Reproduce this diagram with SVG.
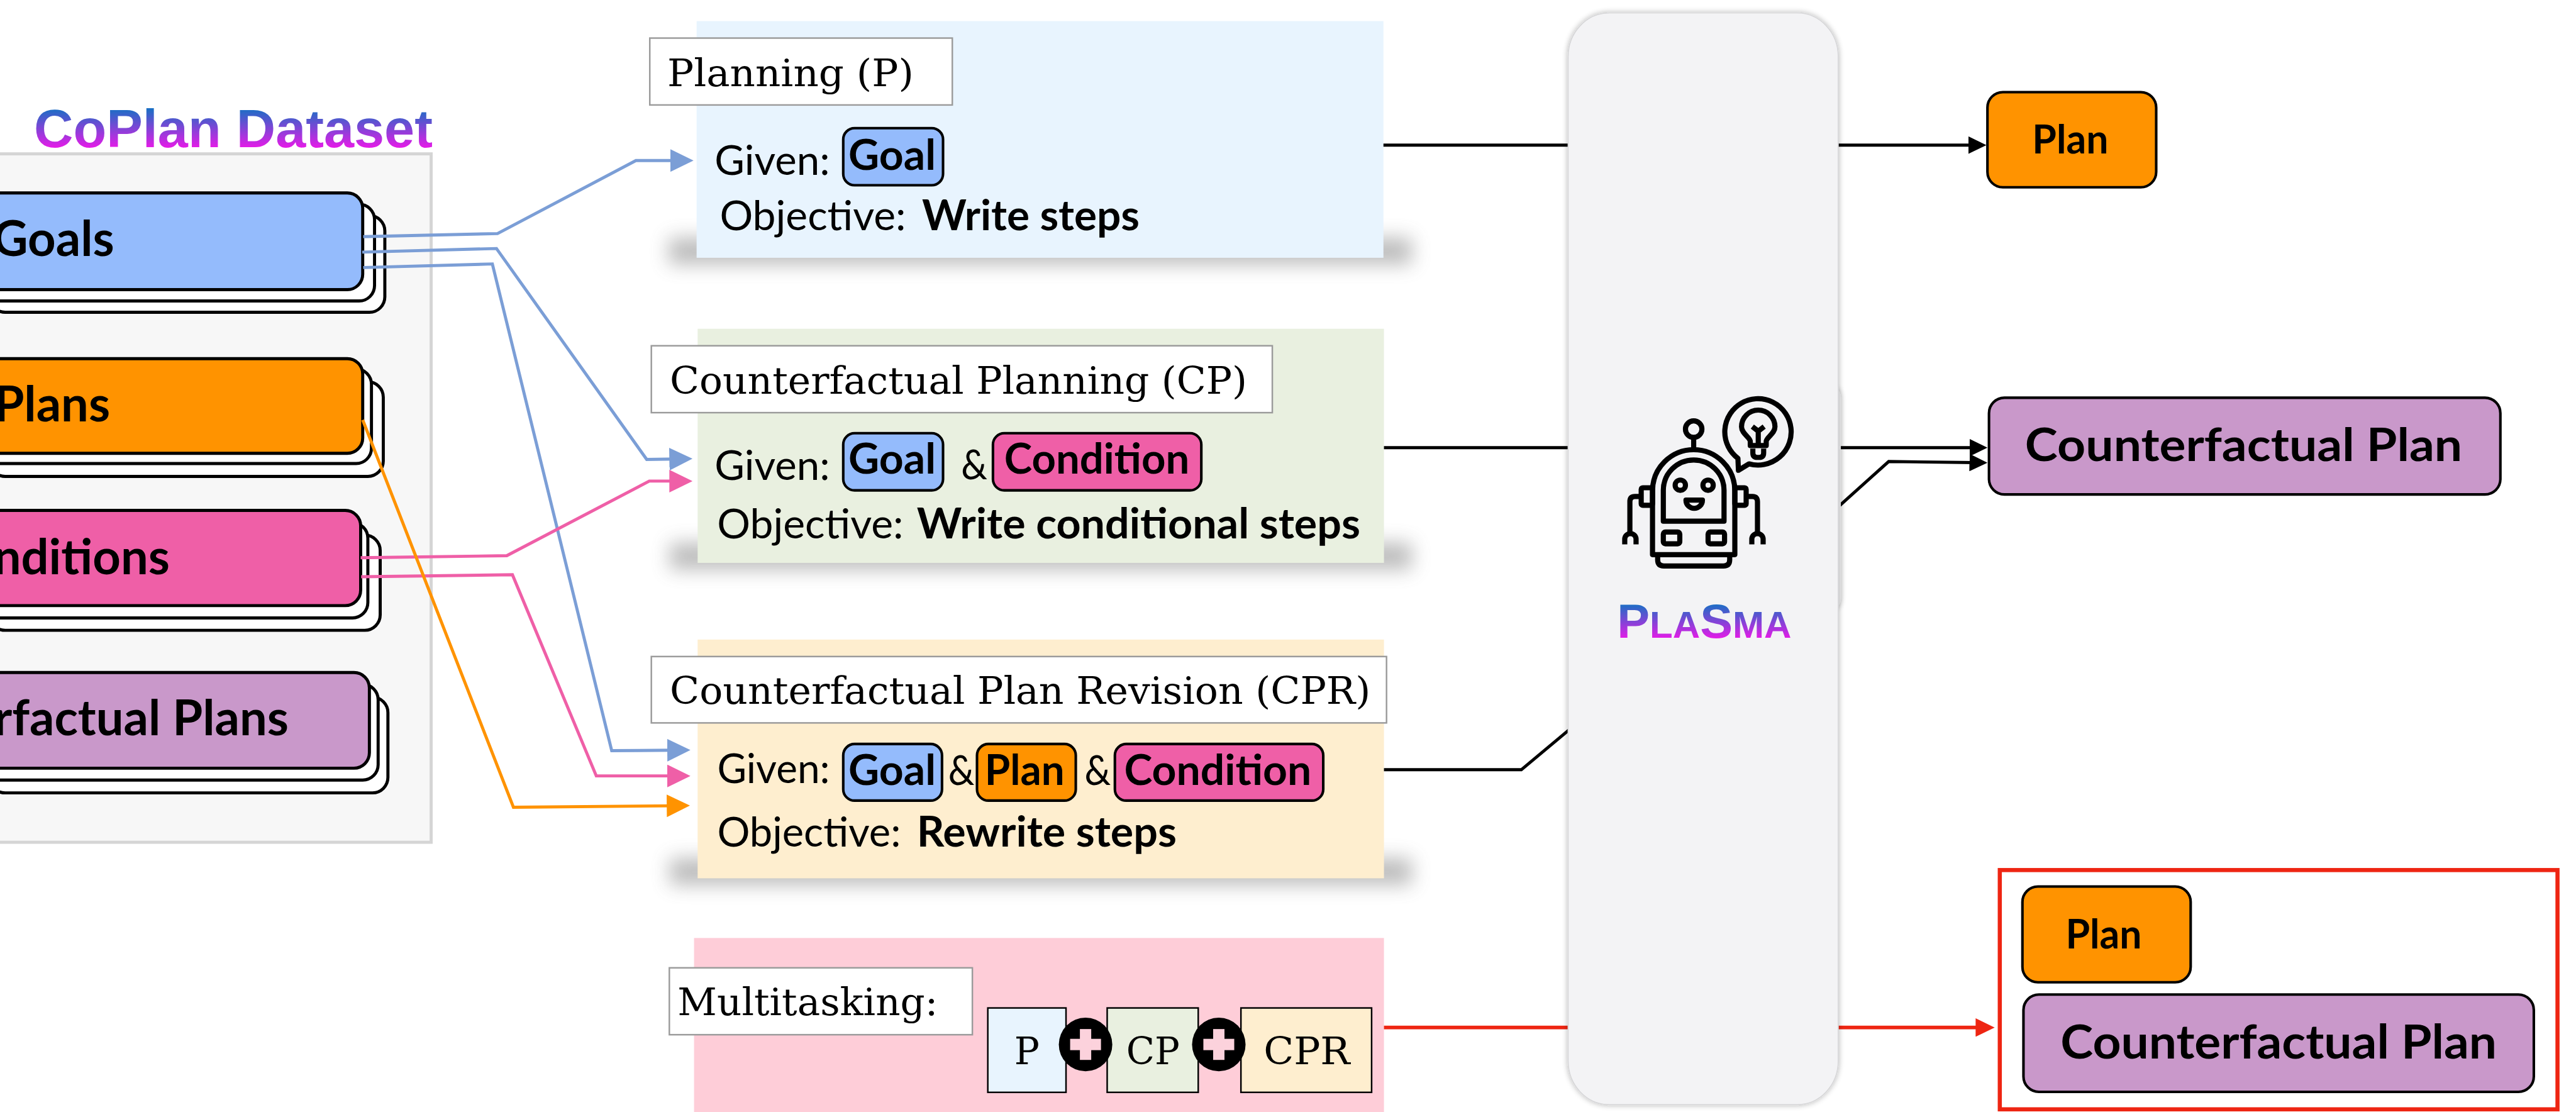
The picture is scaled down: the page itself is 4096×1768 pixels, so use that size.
<svg xmlns="http://www.w3.org/2000/svg" width="4096" height="1768" viewBox="0 0 4096 1768">
  <defs>
    <style>
      .card { stroke: #000; stroke-width: 6; }
      .cardtxt { font-family: "Lato", "Noto Sans", sans-serif; font-weight: 700; font-size: 95px; fill: #000; }
      .tag { fill: #fff; stroke: #9b9b9b; stroke-width: 3; }
      .serif { font-family: "DejaVu Serif", "Liberation Serif", serif; font-size: 73px; fill: #000; }
      .reg { font-family: "Lato", "Noto Sans", sans-serif; font-size: 80px; fill: #000; }
      .bold { font-family: "Lato", "Noto Sans", sans-serif; font-weight: 700; font-size: 82px; fill: #000; }
      .chip { stroke: #000; stroke-width: 5; }
      .outbox { stroke: #000; stroke-width: 5; }
      .outtxt { font-family: "Lato", "Noto Sans", sans-serif; font-weight: 700; fill: #000; }
      .wire { fill: none; stroke-width: 6; stroke-linejoin: miter; }
      .bwire { fill: none; stroke: #000; stroke-width: 6; stroke-linejoin: miter; }
      .icon { fill: none; stroke: #000; stroke-width: 10; stroke-linejoin: round; }
      .subbox { stroke: #000; stroke-width: 3; }
      .plus { fill: #fcd2dc; }
      .shadow { fill: #5a5a5a; opacity: 0.4; }
    </style>
    <linearGradient id="gradTitle" gradientUnits="userSpaceOnUse" x1="0" y1="210" x2="0" y2="288">
      <stop offset="0" stop-color="#1670c4"/>
      <stop offset="1" stop-color="#e81ae8"/>
    </linearGradient>
    <linearGradient id="gradPlasma" gradientUnits="userSpaceOnUse" x1="0" y1="1173" x2="0" y2="1242">
      <stop offset="0" stop-color="#1670c4"/>
      <stop offset="1" stop-color="#e81ae8"/>
    </linearGradient>
    <filter id="panelShadow" x="-20%" y="-200%" width="140%" height="500%">
      <feGaussianBlur stdDeviation="18"/>
    </filter>
    <filter id="pillarShadow" x="-10%" y="-5%" width="120%" height="110%">
      <feGaussianBlur in="SourceAlpha" stdDeviation="6"/>
      <feComponentTransfer><feFuncA type="linear" slope="0.3"/></feComponentTransfer>
      <feMerge><feMergeNode/><feMergeNode in="SourceGraphic"/></feMerge>
    </filter>
    <marker id="arrBlue" markerUnits="userSpaceOnUse" markerWidth="46" markerHeight="44" refX="15" refY="22" orient="auto">
      <path d="M0,0 L45,22 L0,44 Z" fill="#7b9ed6"/>
    </marker>
    <marker id="arrPink" markerUnits="userSpaceOnUse" markerWidth="46" markerHeight="44" refX="15" refY="22" orient="auto">
      <path d="M0,0 L45,22 L0,44 Z" fill="#ef5fa7"/>
    </marker>
    <marker id="arrOrange" markerUnits="userSpaceOnUse" markerWidth="46" markerHeight="44" refX="15" refY="22" orient="auto">
      <path d="M0,0 L45,22 L0,44 Z" fill="#ff9300"/>
    </marker>
    <marker id="arrBlack" markerUnits="userSpaceOnUse" markerWidth="36" markerHeight="34" refX="10" refY="17" orient="auto">
      <path d="M0,0 L35,17 L0,34 Z" fill="#000"/>
    </marker>
    <marker id="arrRed" markerUnits="userSpaceOnUse" markerWidth="38" markerHeight="36" refX="10" refY="18" orient="auto">
      <path d="M0,0 L37,18 L0,36 Z" fill="#ee2512"/>
    </marker>
  </defs>

  <rect x="0" y="0" width="4096" height="1768" fill="#fff"/>

  <g transform="scale(0.81806)">

    <!-- Dataset panel -->
    <g id="dataset">
      <rect x="-10" y="299" width="848" height="1338" fill="#f7f7f7" stroke="#d5d5d5" stroke-width="6"/>
      <text x="66" y="286" font-family="'Liberation Sans', Arial, sans-serif" font-weight="700" font-size="104" fill="url(#gradTitle)" textLength="775" lengthAdjust="spacingAndGlyphs">CoPlan Dataset</text>
    </g>

    <!-- Stacked dataset cards -->
    <g id="goals">
      <rect class="card" x="-20" y="419" width="768" height="188" rx="30" fill="#fff"/>
      <rect class="card" x="-40" y="397" width="768" height="188" rx="30" fill="#fff"/>
      <rect class="card" x="-60" y="375" width="765" height="188" rx="30" fill="#94bbfc"/>
      <text class="cardtxt" x="222" y="498" text-anchor="end">Goals</text>
    </g>
    <g id="plans">
      <rect class="card" x="-20" y="742" width="765" height="184" rx="30" fill="#fff"/>
      <rect class="card" x="-40" y="717" width="762" height="184" rx="30" fill="#fff"/>
      <rect class="card" x="-60" y="697" width="765" height="184" rx="30" fill="#ff9300"/>
      <text class="cardtxt" x="214" y="819" text-anchor="end">Plans</text>
    </g>
    <g id="conditions">
      <rect class="card" x="-20" y="1040" width="759" height="185" rx="30" fill="#fff"/>
      <rect class="card" x="-40" y="1016" width="755" height="185" rx="30" fill="#fff"/>
      <rect class="card" x="-60" y="992" width="761" height="185" rx="30" fill="#ef5fa7"/>
      <text class="cardtxt" x="330" y="1116" text-anchor="end">Conditions</text>
    </g>
    <g id="cf-plans">
      <rect class="card" x="-20" y="1355" width="774" height="186" rx="30" fill="#fff"/>
      <rect class="card" x="-40" y="1330" width="775" height="186" rx="30" fill="#fff"/>
      <rect class="card" x="-60" y="1307" width="778" height="186" rx="30" fill="#c998ca"/>
      <text class="cardtxt" x="561" y="1429" text-anchor="end">Counterfactual Plans</text>
    </g>

    <!-- Task: Planning -->
    <g id="task-p">
      <rect class="shadow" x="1300" y="462" width="1444" height="52" filter="url(#panelShadow)"/>
      <rect x="1354" y="41" width="1335" height="460" fill="#e8f4fe"/>
      <rect class="tag" x="1263" y="74" width="588" height="130"/>
      <text class="serif" x="1297" y="168" textLength="479" lengthAdjust="spacingAndGlyphs">Planning (P)</text>
      <text class="reg" x="1389" y="340" textLength="224" lengthAdjust="spacingAndGlyphs">Given:</text>
      <rect class="chip" x="1639" y="249" width="194" height="111" rx="22" fill="#94bbfc"/>
      <text class="bold" x="1649" y="330" textLength="170" lengthAdjust="spacingAndGlyphs">Goal</text>
      <text class="reg" x="1399" y="447" textLength="362" lengthAdjust="spacingAndGlyphs">Objective:</text>
      <text class="bold" x="1792" y="447" textLength="423" lengthAdjust="spacingAndGlyphs">Write steps</text>
    </g>

    <!-- Task: Counterfactual Planning -->
    <g id="task-cp">
      <rect class="shadow" x="1302" y="1055" width="1442" height="52" filter="url(#panelShadow)"/>
      <rect x="1356" y="639" width="1334" height="455" fill="#e9f0e0"/>
      <rect class="tag" x="1266" y="672" width="1207" height="130"/>
      <text class="serif" x="1302" y="765" textLength="1122" lengthAdjust="spacingAndGlyphs">Counterfactual Planning (CP)</text>
      <text class="reg" x="1389" y="933" textLength="224" lengthAdjust="spacingAndGlyphs">Given:</text>
      <rect class="chip" x="1639" y="842" width="194" height="111" rx="22" fill="#94bbfc"/>
      <text class="bold" x="1649" y="921" textLength="170" lengthAdjust="spacingAndGlyphs">Goal</text>
      <text class="reg" x="1868" y="932" textLength="51" lengthAdjust="spacingAndGlyphs">&amp;</text>
      <rect class="chip" x="1930" y="842" width="405" height="111" rx="22" fill="#ef5fa7"/>
      <text class="bold" x="1952" y="921" textLength="360" lengthAdjust="spacingAndGlyphs">Condition</text>
      <text class="reg" x="1394" y="1047" textLength="362" lengthAdjust="spacingAndGlyphs">Objective:</text>
      <text class="bold" x="1782" y="1047" textLength="862" lengthAdjust="spacingAndGlyphs">Write conditional steps</text>
    </g>

    <!-- Task: Counterfactual Plan Revision -->
    <g id="task-cpr">
      <rect class="shadow" x="1302" y="1668" width="1442" height="52" filter="url(#panelShadow)"/>
      <rect x="1356" y="1243" width="1334" height="464" fill="#feeecf"/>
      <rect class="tag" x="1266" y="1276" width="1429" height="129"/>
      <text class="serif" x="1302" y="1368" textLength="1362" lengthAdjust="spacingAndGlyphs">Counterfactual Plan Revision (CPR)</text>
      <text class="reg" x="1394" y="1522" textLength="219" lengthAdjust="spacingAndGlyphs">Given:</text>
      <rect class="chip" x="1639" y="1446" width="192" height="110" rx="22" fill="#94bbfc"/>
      <text class="bold" x="1649" y="1525" textLength="170" lengthAdjust="spacingAndGlyphs">Goal</text>
      <text class="reg" x="1843" y="1525" textLength="51" lengthAdjust="spacingAndGlyphs">&amp;</text>
      <rect class="chip" x="1899" y="1446" width="192" height="110" rx="22" fill="#ff9300"/>
      <text class="bold" x="1914" y="1525" textLength="155" lengthAdjust="spacingAndGlyphs">Plan</text>
      <text class="reg" x="2108" y="1525" textLength="51" lengthAdjust="spacingAndGlyphs">&amp;</text>
      <rect class="chip" x="2167" y="1446" width="405" height="110" rx="22" fill="#ef5fa7"/>
      <text class="bold" x="2185" y="1525" textLength="364" lengthAdjust="spacingAndGlyphs">Condition</text>
      <text class="reg" x="1394" y="1645" textLength="357" lengthAdjust="spacingAndGlyphs">Objective:</text>
      <text class="bold" x="1782" y="1645" textLength="505" lengthAdjust="spacingAndGlyphs">Rewrite steps</text>
    </g>

    <!-- Task: Multitasking -->
    <g id="task-multi">
      <rect x="1349" y="1823" width="1341" height="400" fill="#fecdd8"/>
      <rect class="tag" x="1301" y="1881" width="589" height="130"/>
      <text class="serif" x="1317" y="1973" textLength="506" lengthAdjust="spacingAndGlyphs">Multitasking:</text>
      <rect class="subbox" x="1920" y="1959" width="152" height="164" fill="#e8f4fe"/>
      <rect class="subbox" x="2152" y="1959" width="177" height="164" fill="#e9f0e0"/>
      <rect class="subbox" x="2412" y="1959" width="254" height="164" fill="#feeecf"/>
      <circle cx="2110" cy="2030" r="52" fill="#000"/>
      <rect class="plus" x="2080" y="2019" width="60" height="22"/>
      <rect class="plus" x="2099" y="2000" width="22" height="60"/>
      <circle cx="2369" cy="2030" r="52" fill="#000"/>
      <rect class="plus" x="2339" y="2019" width="60" height="22"/>
      <rect class="plus" x="2358" y="2000" width="22" height="60"/>
      <text class="serif" x="1996" y="2068" font-size="78" text-anchor="middle">P</text>
      <text class="serif" x="2241" y="2068" font-size="78" text-anchor="middle" textLength="104" lengthAdjust="spacingAndGlyphs">CP</text>
      <text class="serif" x="2540" y="2068" font-size="78" text-anchor="middle" textLength="168" lengthAdjust="spacingAndGlyphs">CPR</text>
    </g>

    <!-- Connectors -->
    <g id="connectors">
      <path class="wire" stroke="#7b9ed6" d="M706,460 L967,454 L1236,312 L1318,312" marker-end="url(#arrBlue)"/>
      <path class="wire" stroke="#7b9ed6" d="M704,490 L965,483 L1257,893 L1316,892" marker-end="url(#arrBlue)"/>
      <path class="wire" stroke="#7b9ed6" d="M706,520 L957,513 L1189,1459 L1312,1458" marker-end="url(#arrBlue)"/>
      <path class="wire" stroke="#ef5fa7" d="M701,1084 L985,1080 L1262,935 L1316,935" marker-end="url(#arrPink)"/>
      <path class="wire" stroke="#ef5fa7" d="M702,1121 L996,1117 L1159,1508 L1312,1508" marker-end="url(#arrPink)"/>
      <path class="wire" stroke="#ff9300" d="M705,816 L998,1569 L1311,1566" marker-end="url(#arrOrange)"/>
      <path class="bwire" d="M2689,282 L3836,282" marker-end="url(#arrBlack)"/>
      <path class="bwire" d="M2690,870 L3838,870" marker-end="url(#arrBlack)"/>
      <path class="bwire" d="M2690,1496 L2957,1496 L3048,1420 L3573,985 L3671,897 L3838,899" marker-end="url(#arrBlack)"/>
      <path fill="none" stroke="#ee2512" stroke-width="7" d="M2690,1997 L3850,1997" marker-end="url(#arrRed)"/>
    </g>

    <!-- PLASMA model -->
    <g id="plasma">
      <rect x="3470" y="750" width="108" height="436" rx="22" fill="#f0f0f2" filter="url(#pillarShadow)"/>
      <rect x="3048" y="25" width="525" height="2122" rx="80" ry="85" fill="#f3f3f5" stroke="#d6d6d8" stroke-width="2" filter="url(#pillarShadow)"/>
      <!-- robot -->
      <circle class="icon" cx="3292" cy="834" r="16"/>
      <path class="icon" d="M3292,850 V872"/>
      <path class="icon" d="M3212,1078 V954 A80,80 0 0 1 3372,954 V1078 Z"/>
      <path class="icon" d="M3222,1078 V1088 Q3222,1100 3234,1100 H3350 Q3362,1100 3362,1088 V1078"/>
      <path class="icon" d="M3233,1013 V953 A59,59 0 0 1 3351,953 V1013 Z"/>
      <circle class="icon" cx="3266" cy="943" r="10" stroke-width="11"/>
      <circle class="icon" cx="3320" cy="943" r="10" stroke-width="11"/>
      <path class="icon" d="M3277,972 H3309 A16,16 0 0 1 3277,972 Z"/>
      <rect class="icon" x="3233" y="1034" width="32" height="23" rx="4"/>
      <rect class="icon" x="3320" y="1034" width="32" height="23" rx="4"/>
      <rect class="icon" x="3190" y="948" width="22" height="34" rx="3"/>
      <rect class="icon" x="3372" y="948" width="22" height="34" rx="3"/>
      <path class="icon" d="M3190,965 H3178 Q3168,965 3168,975 V1038"/>
      <path class="icon" d="M3394,965 H3406 Q3416,965 3416,975 V1038"/>
      <path class="icon" stroke-linejoin="miter" d="M3158,1058 V1048 A11,11 0 0 1 3180,1048 V1058"/>
      <path class="icon" stroke-linejoin="miter" d="M3405,1058 V1048 A11,11 0 0 1 3427,1048 V1058"/>
      <!-- thought bubble with bulb -->
      <path class="icon" d="M3399.5,901.5 A64.5,64.5 0 1 0 3378,890.8 L3379,914 Z"/>
      <path class="icon" d="M3402,866 V858 C3402,850 3385,843 3385,829.5 A32.5,32.5 0 1 1 3450,829.5 C3450,843 3433,850 3433,858 V866 Z"/>
      <path class="icon" d="M3407,872 V880 Q3407,889 3416,889 H3419 Q3428,889 3428,880 V872"/>
      <path class="icon" stroke-width="9" d="M3406,829 L3417.5,838 L3429,829 M3417.5,838 V864"/>
      <text x="3143" y="1240" font-family="'Liberation Sans', Arial, sans-serif" font-weight="700" fill="url(#gradPlasma)" textLength="339" lengthAdjust="spacingAndGlyphs"><tspan font-size="93">P</tspan><tspan font-size="72">LA</tspan><tspan font-size="93">S</tspan><tspan font-size="72">MA</tspan></text>
    </g>

    <!-- Outputs -->
    <g id="out-plan">
      <rect class="outbox" x="3863" y="179" width="328" height="185" rx="30" fill="#ff9300"/>
      <text class="outtxt" x="4024" y="298" font-size="78" text-anchor="middle" textLength="148" lengthAdjust="spacingAndGlyphs">Plan</text>
    </g>
    <g id="out-cfplan">
      <rect class="outbox" x="3866" y="773" width="994" height="188" rx="30" fill="#c998ca"/>
      <text class="outtxt" x="3936" y="896" font-size="90" textLength="850" lengthAdjust="spacingAndGlyphs">Counterfactual Plan</text>
    </g>
    <g id="out-multi">
      <rect x="3887" y="1691" width="1084" height="465" fill="#fff" stroke="#ee2512" stroke-width="8"/>
      <rect class="outbox" x="3931" y="1723" width="327" height="186" rx="30" fill="#ff9300"/>
      <text class="outtxt" x="4089" y="1843" font-size="80" text-anchor="middle" textLength="148" lengthAdjust="spacingAndGlyphs">Plan</text>
      <rect class="outbox" x="3933" y="1933" width="992" height="189" rx="30" fill="#c998ca"/>
      <text class="outtxt" x="4005" y="2057" font-size="92" textLength="848" lengthAdjust="spacingAndGlyphs">Counterfactual Plan</text>
    </g>
  </g>
</svg>
